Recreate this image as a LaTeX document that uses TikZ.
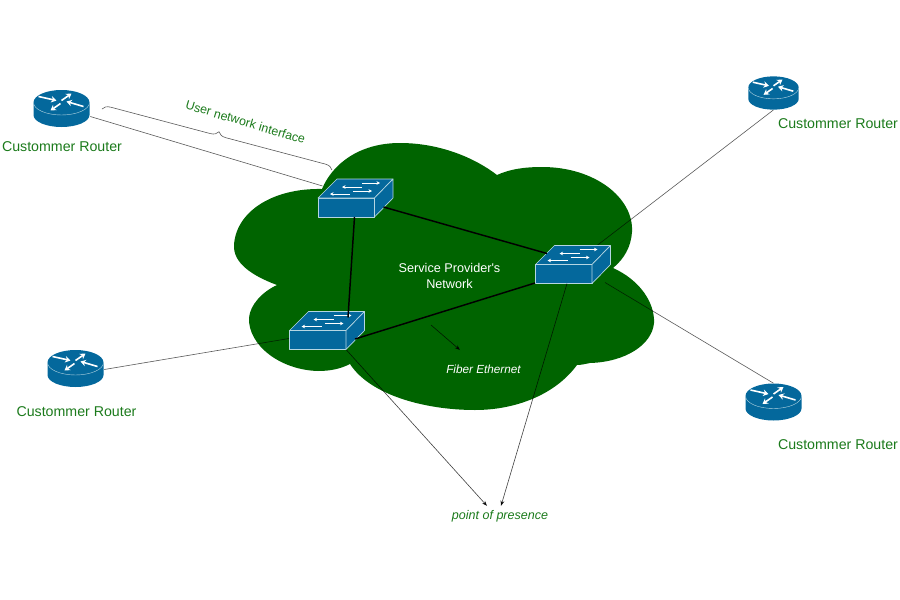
\documentclass[tikz,border=0pt]{standalone}
\usepackage{fontspec}
\setmainfont{Liberation Sans}
\usetikzlibrary{arrows.meta,decorations.pathreplacing}
\definecolor{cloudgreen}{HTML}{006400}
\definecolor{labelgreen}{HTML}{1B7A1B}
\definecolor{iconblue}{HTML}{04689C}
\definecolor{iconedge}{HTML}{B5D6E2}
\tikzset{
    rtrbox/.style = {inner sep = 0pt, minimum width = 42.75pt, minimum height = 27.75pt},
    swbox/.style = {inner sep = 0pt, minimum width = 56.25pt, minimum height = 28.5pt},
    lbl/.style = {text = labelgreen, font = \fontsize{10.65}{12.5}\selectfont, inner sep = 0pt},
    thinlink/.style = {draw = black, draw opacity = 0.65, line width = 0.45pt},
    thicklink/.style = {draw = black, line width = 1.1pt},
    ptr/.style = {draw = black, draw opacity = 0.75, line width = 0.45pt, -{Stealth[length = 4pt, width = 3pt]}},
    iconarrow/.style = {draw = white, line width = 1.2pt, -{Stealth[length = 4pt, width = 4.8pt]}},
    swarrow/.style = {draw = white, line width = 0.55pt, -{Stealth[length = 2.6pt, width = 2.6pt]}},
    routericon/.pic = {
        \fill[iconblue] (-28, -6) -- (-28, 6.5) arc[start angle = 180, end angle = 0, x radius = 28, y radius = 12] -- (28, -6) -- cycle;
        \fill[iconblue] (0, -6) ellipse[x radius = 28, y radius = 12.5];
        \draw[iconedge, line width = 0.3pt] (-28, -6) arc[start angle = 180, end angle = 0, x radius = 28, y radius = 12.5];
        \draw[iconarrow] (-23, -12) -- (-5, -8);
        \draw[iconarrow] (0, -8) -- (10, -15);
        \draw[iconarrow] (-1, -5) -- (-11, 2);
        \draw[iconarrow] (22, -2) -- (5, -7);
    },
    switchicon/.pic = {
        \draw[iconedge, fill = iconblue, line width = 0.5pt, line join = round] (-37.5, 0) rectangle (19, 19);
        \draw[iconedge, fill = iconblue, line width = 0.5pt, line join = round] (-37.5, 0) -- (-18.5, -19) -- (37.5, -19) -- (19, 0) -- cycle;
        \draw[iconedge, fill = iconblue, line width = 0.5pt, line join = round] (19, 0) -- (37.5, -19) -- (37.5, 0) -- (19, 19) -- cycle;
        \draw[swarrow] (6.5, -11) -- (-13.5, -11);
        \draw[swarrow] (6.5, -15) -- (24.5, -15);
        \draw[swarrow] (-5.5, -4) -- (-25.5, -4);
        \draw[swarrow] (-2.5, -7) -- (16.5, -7);
    }
}
\begin{document}
\begin{tikzpicture}[x = 0.75pt, y = -0.75pt]
    \useasboundingbox (0, 0) rectangle (900, 600);
    % provider cloud
    \fill[cloudgreen] (322, 189) .. controls (332, 165) and (358, 143) .. (400, 143)
        .. controls (440, 143) and (475, 158) .. (497, 175)
        .. controls (510, 169) and (525, 167) .. (542, 167)
        .. controls (595, 167) and (634, 198) .. (632, 232)
        .. controls (631, 247) and (624, 259) .. (613, 268)
        .. controls (640, 280) and (655, 303) .. (654, 323)
        .. controls (652, 345) and (625, 362) .. (590, 363)
        .. controls (585, 364) and (581, 365) .. (577, 365)
        .. controls (555, 395) and (515, 410) .. (475, 410)
        .. controls (425, 410) and (370, 395) .. (350, 364)
        .. controls (340, 369) and (330, 371) .. (318, 371)
        .. controls (280, 370) and (248, 345) .. (249, 318)
        .. controls (250, 305) and (262, 292) .. (277, 285)
        .. controls (250, 275) and (233, 262) .. (234, 245)
        .. controls (236, 212) and (272, 188) .. (322, 189) -- cycle;

    % icon places, the drawings follow after the thin lines
    \foreach \n/\x/\y/\s in {a/61.5/108.5/1, b/75.5/368.5/1, c/773.5/93/0.9, d/773.5/402/1}{
        \node[rtrbox, scale = \s, transform shape] (rtr\n) at (\x, \y) {};
    }
    \node[swbox] (swa) at (355.5, 198) {};
    \node[swbox] (swb) at (327, 330.5) {};
    \node[swbox] (swc) at (573, 264.5) {};

    % labels
    \node[lbl] (lbla) at (62, 147) {Custommer Router};
    \node[lbl] (lblb) at (76.5, 412) {Custommer Router};
    \node[lbl] (lblc) at (838, 124) {Custommer Router};
    \node[lbl] (lbld) at (838, 445) {Custommer Router};
    \node[lbl, font = \fontsize{9.3}{11}\selectfont, rotate = -16.5] (uni) at (245.5, 122) {User network interface};
    \node[lbl, text = white, align = center, font = \fontsize{9.5}{12}\selectfont] (provider) at (449.5, 276) {Service Provider\textquotesingle s\\Network};
    \node[lbl, text = white, font = \fontsize{8.8}{10}\itshape] (fiber) at (483.5, 369.5) {Fiber Ethernet};
    \node[lbl, font = \fontsize{9.4}{11}\itshape] (pop) at (500, 516) {point of presence};

    % access lines
    \draw[thinlink] ([shift = {(0, 8)}]rtra.east) -- ([shift = {(-33, -12)}]swa.center);
    \draw[thinlink] ([shift = {(0, 1)}]rtrb.east) -- ([shift = {(-38, 8)}]swb.center);
    \draw[thinlink] (rtrc.south) -- ([shift = {(24, -19)}]swc.center);
    \draw[thinlink] (rtrd.north) -- ([shift = {(32, 18)}]swc.center);

    % icons
    \foreach \n/\s in {a/1, b/1, c/0.9, d/1}{
        \pic[scale = \s] at (rtr\n) {routericon};
    }
    \foreach \n in {a, b, c}{
        \pic at (sw\n) {switchicon};
    }

    % backbone links
    \draw[thicklink] ([shift = {(-1, 19)}]swa.center) -- ([shift = {(21, -13)}]swb.center);
    \draw[thicklink] ([shift = {(28, 9)}]swa.center) -- ([shift = {(-26, -11)}]swc.center);
    \draw[thicklink] ([shift = {(28, 8.5)}]swb.center) -- ([shift = {(-38, 18.5)}]swc.center);

    % pointers
    \coordinate (fibertail) at (431, 325);
    \coordinate (fiberhead) at (460, 350);
    \draw[ptr] (fibertail) -- (fiberhead);
    \draw[ptr] ([shift = {(19, 19)}]swb.center) -- ([shift = {(-13, -4)}]pop.north);
    \draw[ptr] ([shift = {(-6, 19)}]swc.center) -- ([shift = {(1, -4)}]pop.north);

    % brace over the access line
    \coordinate (bracestart) at (102, 109);
    \coordinate (braceend) at (332, 170);
    \draw[draw = black, draw opacity = 0.65, line width = 0.45pt, decorate, decoration = {brace, amplitude = 6pt, aspect = 0.5}] (bracestart) -- (braceend);
\end{tikzpicture}
\end{document}
